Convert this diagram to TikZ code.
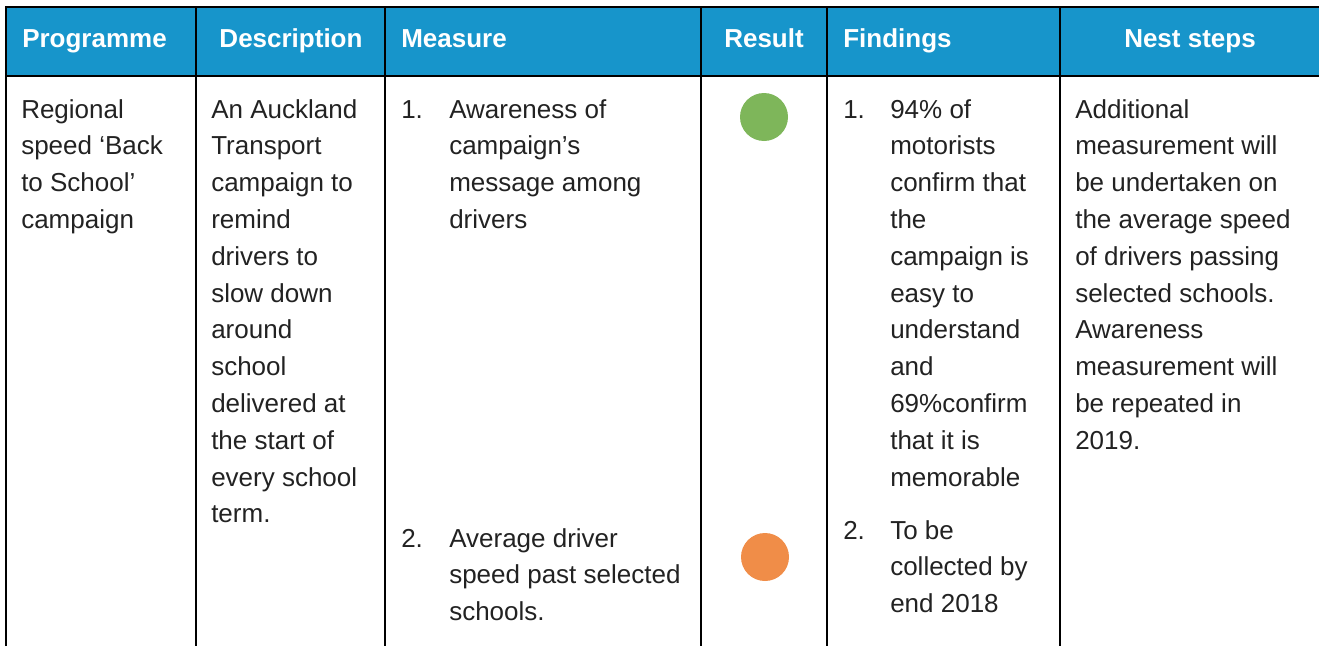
\documentclass[tikz,border=0pt]{standalone}
\usepackage{fontspec}
\setmainfont{Liberation Sans}
\definecolor{headblue}{RGB}{23,149,203}
\definecolor{bodygrey}{RGB}{34,34,34}
\definecolor{resgreen}{RGB}{126,182,90}
\definecolor{resorange}{RGB}{240,141,72}
\begin{document}
\begin{tikzpicture}[x=0.75pt,y=-0.75pt,
  rule/.style={line width=1.5pt,black},
  headtext/.style={font=\fontsize{19.5}{27.6}\selectfont\bfseries,text=white,inner sep=0pt},
  bodytext/.style={font=\fontsize{19.5}{27.6}\selectfont,text=bodygrey,align=left,inner sep=0pt,anchor=base west},
  dot/.style={circle,inner sep=0pt,minimum size=36pt}]
\useasboundingbox (0,0) rectangle (1319,646);
\fill [headblue] (6,7) rectangle (1319,76);
\draw [rule] (1319,76) -- (6,76);
\draw [rule] (6,646) -- (6,7) -- (1319,7);
\foreach \xcol in {196,385,701,827,1060}
  \draw [rule] (\xcol,7) -- (\xcol,646);

\node [headtext,anchor=base west] (hprog) at (22,47) {Programme};
\node [headtext,anchor=base] (hdesc) at (291,47) {Description};
\node [headtext,anchor=base west] (hmeas) at (401,47) {Measure};
\node [headtext,anchor=base] (hres) at (764,47) {Result};
\node [headtext,anchor=base west] (hfind) at (843,47) {Findings};
\node [headtext,anchor=base] (hnext) at (1190,47) {Nest steps};

% base anchor sits on the last line, so shift by (lines-1)*36.8
\node [bodytext] (prog) at (21,{118+3*36.8}) {Regional\\speed ‘Back\\to School’\\campaign};
\node [bodytext] (desc) at (211,{118+11*36.8}) {An Auckland\\Transport\\campaign to\\remind\\drivers to\\slow down\\around\\school\\delivered at\\the start of\\every school\\term.};
\node [bodytext] (numa) at (401,118) {1.};
\node [bodytext] (meas1) at (449,{118+3*36.8}) {Awareness of\\campaign’s\\message among\\drivers};
\node [bodytext] (numb) at (401,547) {2.};
\node [bodytext] (meas2) at (449,{547+2*36.8}) {Average driver\\speed past selected\\schools.};
\node [dot,fill=resgreen] (res1) at (764,117) {};
\node [dot,fill=resorange] (res2) at (765,557) {};
\node [bodytext] (numc) at (843,118) {1.};
\node [bodytext] (find1) at (890,{118+10*36.8}) {94\% of\\motorists\\confirm that\\the\\campaign is\\easy to\\understand\\and\\69\%confirm\\that it is\\memorable};
\node [bodytext] (numd) at (843,539) {2.};
\node [bodytext] (find2) at (890,{539+2*36.8}) {To be\\collected by\\end 2018};
\node [bodytext] (next) at (1075,{118+9*36.8}) {Additional\\measurement will\\be undertaken on\\the average speed\\of drivers passing\\selected schools.\\Awareness\\measurement will\\be repeated in\\2019.};
\end{tikzpicture}
\end{document}
